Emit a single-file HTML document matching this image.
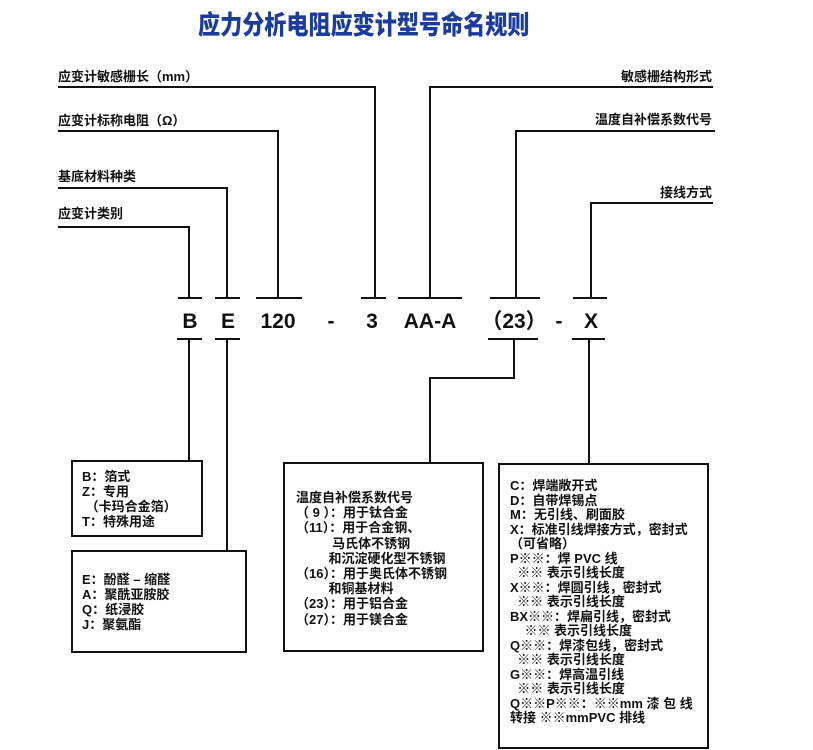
<!DOCTYPE html>
<html><head><meta charset="utf-8"><style>
body{margin:0;width:813px;height:750px;background:#fff;position:relative;overflow:hidden;font-family:"Liberation Sans","Noto Sans CJK SC",sans-serif;color:#111}
.t{position:absolute;font-weight:bold;font-size:13px;line-height:14px;white-space:nowrap}
.r{text-align:right}
.code{position:absolute;top:310px;font-weight:bold;font-size:21px;line-height:24px;transform:translateX(-50%);white-space:nowrap}
.box{position:absolute;font-weight:bold;font-size:13px;white-space:pre;}
</style></head><body>
<div style="position:absolute;left:198px;top:9px;white-space:nowrap;font-size:26px;line-height:30px;font-weight:900;color:#1c3c9c;font-family:'Noto Sans CJK SC',sans-serif;transform:scaleX(0.85);transform-origin:left">应力分析电阻应变计型号命名规则</div>
<svg width="813" height="750" style="position:absolute;left:0;top:0" fill="none" stroke="#111" stroke-width="2">
<polyline points="58,87 375,87 375,298"/>
<polyline points="58,131 278,131 278,298"/>
<polyline points="58,188 227,188 227,298"/>
<polyline points="58,227 189,227 189,298"/>
<polyline points="713,87 430,87 430,298"/>
<polyline points="715,131 516,131 516,298"/>
<polyline points="713,203 591,203 591,298"/>
<line x1="178" y1="298" x2="202" y2="298"/>
<line x1="215" y1="298" x2="240" y2="298"/>
<line x1="256" y1="298" x2="302" y2="298"/>
<line x1="361" y1="298" x2="386" y2="298"/>
<line x1="398" y1="298" x2="462" y2="298"/>
<line x1="490" y1="298" x2="540" y2="298"/>
<line x1="573" y1="298" x2="607" y2="298"/>
<line x1="177" y1="339" x2="202" y2="339"/>
<line x1="215" y1="339" x2="240" y2="339"/>
<line x1="488" y1="339" x2="538" y2="339"/>
<line x1="572" y1="339" x2="605" y2="339"/>
<line x1="189" y1="339" x2="189" y2="461"/>
<line x1="227" y1="339" x2="227" y2="551"/>
<polyline points="514,339 514,378 430,378 430,463"/>
<line x1="589" y1="339" x2="589" y2="464"/>
<rect x="72" y="461" width="130" height="75"/>
<rect x="72" y="551" width="174" height="101"/>
<rect x="284" y="463" width="199" height="188"/>
<rect x="499" y="464" width="209" height="284"/>
</svg>
<div class="t" style="left:58px;top:70px">应变计敏感栅长（mm）</div>
<div class="t" style="left:58px;top:114px">应变计标称电阻（Ω）</div>
<div class="t" style="left:58px;top:170px">基底材料种类</div>
<div class="t" style="left:58px;top:207px">应变计类别</div>
<div class="t r" style="right:101px;top:70px">敏感栅结构形式</div>
<div class="t r" style="right:101px;top:113px">温度自补偿系数代号</div>
<div class="t r" style="right:101px;top:186px">接线方式</div>
<div class="code" style="left:190px">B</div>
<div class="code" style="left:228px">E</div>
<div class="code" style="left:278px">120</div>
<div class="code" style="left:331px">-</div>
<div class="code" style="left:372px">3</div>
<div class="code" style="left:430px">AA-A</div>
<div class="code" style="left:514px">（23）</div>
<div class="code" style="left:559px">-</div>
<div class="code" style="left:591px">X</div>
<div class="box" style="left:82px;top:469px;line-height:15px">B：箔式
Z：专用
 （卡玛合金箔）
T：特殊用途</div>
<div class="box" style="left:82px;top:572px;line-height:15px">E：酚醛 – 缩醛
A：聚酰亚胺胶
Q：纸浸胶
J：聚氨酯</div>
<div class="box" style="left:296px;top:490px;line-height:15.2px">温度自补偿系数代号
（ 9 ）：用于钛合金
（11）：用于合金钢、
          马氏体不锈钢
         和沉淀硬化型不锈钢
（16）：用于奥氏体不锈钢
         和铜基材料
（23）：用于铝合金
（27）：用于镁合金</div>
<div class="box" style="left:510px;top:479px;line-height:14.5px">C：焊端敞开式
D：自带焊锡点
M：无引线、刷面胶
X：标准引线焊接方式，密封式
（可省略）
P※※：焊 PVC 线
  ※※ 表示引线长度
X※※：焊圆引线，密封式
  ※※ 表示引线长度
BX※※：焊扁引线，密封式
    ※※ 表示引线长度
Q※※：焊漆包线，密封式
  ※※ 表示引线长度
G※※：焊高温引线
  ※※ 表示引线长度
Q※※P※※：※※mm 漆 包 线
转接 ※※mmPVC 排线</div>
</body></html>
